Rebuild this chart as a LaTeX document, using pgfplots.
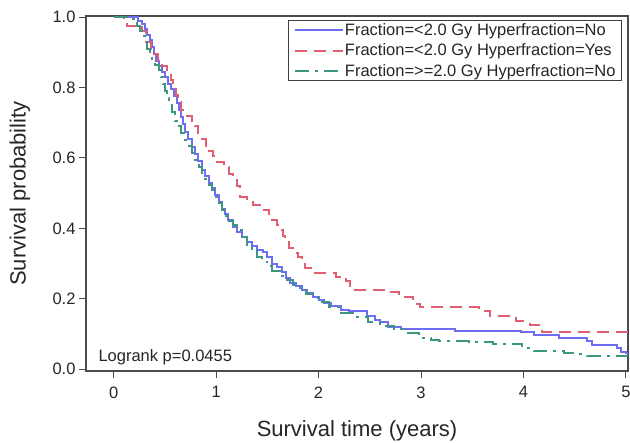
\documentclass[border=0pt]{standalone}
\usepackage{pgfplots}
\pgfplotsset{compat=1.18}
\usepackage{fontspec}
\setmainfont{Liberation Sans}

\definecolor{kmblue}{RGB}{110,110,245}
\definecolor{kmred}{RGB}{225,95,115}
\definecolor{kmgreen}{RGB}{60,150,130}

\begin{document}
\begin{tikzpicture}
\begin{axis}[
    scale only axis,
    width=542pt, height=355pt,
    xmin=-0.27, xmax=5.02,
    ymin=-0.005, ymax=1.003,
    xtick={0,1,2,3,4,5},
    ytick={0,0.2,0.4,0.6,0.8,1.0},
    /pgf/number format/assume math mode=true,
    yticklabel style={/pgf/number format/fixed, /pgf/number format/fixed zerofill,
      /pgf/number format/precision=1},
    xticklabel style={yshift=-5pt},
    tick label style={font=\fontsize{16.5}{19}\selectfont, text=black!85},
    tick align=outside, tick pos=left,
    major tick length=7pt,
    every tick/.style={black!70, line width=1pt},
    axis line style={draw=black!70, line width=1.2pt},
    xlabel={Survival time (years)},
    ylabel={Survival probability},
    label style={font=\fontsize{22}{26}\selectfont, text=black!85},
    xlabel style={at={(rel axis cs:0.5,0)}, anchor=base, yshift=-65pt},
    ylabel style={at={(rel axis cs:0,0.5)}, anchor=center, yshift=66pt},
    legend style={at={(rel axis cs:1,1)}, anchor=north east, xshift=-6pt, yshift=-4pt,
      draw=black!75, line width=1pt, font=\fontsize{16.5}{19}\selectfont,
      inner xsep=5pt, inner ysep=2pt, row sep=5pt,
      nodes={inner sep=1pt, text=black!85}},
    legend cell align=left,
    legend image code/.code={\draw[#1] (0pt,0pt) -- (48pt,0pt);},
]
\coordinate (ll) at (rel axis cs:0,0);
\coordinate (ur) at (rel axis cs:1,1);

\addplot[const plot, kmblue, line width=2pt] coordinates {
(0,1) (0.24,0.99) (0.28,0.98) (0.31,0.965) (0.33,0.95) (0.35,0.935) (0.37,0.915)
(0.39,0.895) (0.41,0.875) (0.44,0.86) (0.47,0.845) (0.50,0.83) (0.53,0.81)
(0.56,0.795) (0.59,0.775) (0.62,0.755) (0.64,0.735) (0.66,0.715) (0.68,0.695)
(0.70,0.675) (0.73,0.655) (0.76,0.63) (0.79,0.61) (0.82,0.59) (0.86,0.565)
(0.89,0.55) (0.93,0.53) (0.96,0.515) (0.99,0.495) (1.03,0.475) (1.06,0.455)
(1.09,0.44) (1.12,0.425) (1.16,0.405) (1.20,0.39) (1.25,0.375) (1.30,0.362)
(1.35,0.35) (1.40,0.34) (1.46,0.333) (1.50,0.32) (1.55,0.30) (1.59,0.29)
(1.64,0.275) (1.68,0.26) (1.72,0.246) (1.78,0.235) (1.84,0.225) (1.89,0.217)
(1.95,0.205) (2.00,0.197) (2.05,0.189) (2.12,0.18) (2.22,0.169) (2.30,0.164)
(2.47,0.15) (2.55,0.14) (2.60,0.133) (2.68,0.12) (2.80,0.114) (3.33,0.11)
(3.98,0.105) (4.10,0.096) (4.35,0.088) (4.62,0.079) (4.67,0.07) (4.91,0.06)
(4.95,0.05) (5.00,0.045) (5.05,0.045)
};
\addlegendentry{Fraction=<2.0 Gy Hyperfraction=No}

\addplot[const plot, kmred, line width=2pt, dash pattern=on 12pt off 7pt] coordinates {
(0,1) (0.10,0.99) (0.13,0.975) (0.28,0.96) (0.32,0.93) (0.36,0.91) (0.39,0.895)
(0.43,0.876) (0.47,0.86) (0.52,0.84) (0.56,0.82) (0.58,0.80) (0.61,0.78)
(0.63,0.76) (0.66,0.735) (0.70,0.72) (0.76,0.705) (0.79,0.69) (0.82,0.67)
(0.86,0.655) (0.90,0.635) (0.93,0.62) (0.97,0.605) (1.01,0.588) (1.08,0.573)
(1.13,0.555) (1.16,0.54) (1.20,0.52) (1.23,0.49) (1.30,0.48) (1.36,0.466)
(1.44,0.452) (1.52,0.435) (1.55,0.424) (1.59,0.41) (1.62,0.395) (1.65,0.378)
(1.67,0.362) (1.71,0.345) (1.76,0.33) (1.80,0.318) (1.84,0.30) (1.87,0.288)
(1.95,0.274) (2.17,0.263) (2.27,0.25) (2.31,0.236) (2.34,0.226) (2.66,0.22)
(2.78,0.214) (2.84,0.206) (2.92,0.195) (2.96,0.184) (2.99,0.176) (3.57,0.164)
(3.67,0.15) (3.93,0.136) (4.06,0.127) (4.18,0.107) (5.05,0.107)
};
\addlegendentry{Fraction=<2.0 Gy Hyperfraction=Yes}

\addplot[const plot, kmgreen, line width=2pt, dash pattern=on 14pt off 6pt on 3pt off 6pt] coordinates {
(0,1) (0.14,0.995) (0.20,0.985) (0.23,0.975) (0.26,0.96) (0.28,0.945) (0.31,0.93)
(0.33,0.91) (0.35,0.895) (0.37,0.88) (0.40,0.865) (0.44,0.85) (0.46,0.83)
(0.48,0.81) (0.50,0.79) (0.52,0.77) (0.54,0.75) (0.57,0.73) (0.60,0.706)
(0.63,0.69) (0.66,0.67) (0.69,0.65) (0.72,0.635) (0.76,0.613) (0.79,0.595)
(0.83,0.575) (0.86,0.556) (0.89,0.54) (0.93,0.522) (0.96,0.508) (1.00,0.49)
(1.03,0.472) (1.06,0.452) (1.10,0.435) (1.13,0.42) (1.16,0.41) (1.20,0.395)
(1.25,0.375) (1.30,0.352) (1.35,0.335) (1.40,0.32) (1.45,0.305) (1.50,0.292)
(1.55,0.28) (1.62,0.266) (1.69,0.252) (1.75,0.24) (1.82,0.226) (1.88,0.215)
(1.95,0.203) (2.00,0.19) (2.10,0.178) (2.22,0.161) (2.35,0.148) (2.48,0.133)
(2.60,0.124) (2.74,0.113) (2.85,0.103) (2.98,0.09) (3.10,0.083) (3.18,0.079)
(3.47,0.076) (3.70,0.072) (3.99,0.065) (4.03,0.059) (4.10,0.051) (4.40,0.045)
(4.50,0.042) (4.62,0.037) (5.05,0.037)
};
\addlegendentry{Fraction=>=2.0 Gy Hyperfraction=No}

\node[anchor=base west, font=\fontsize{16.5}{19}\selectfont, text=black!85]
  at ([xshift=9pt, yshift=10pt]ll) {Logrank p=0.0455};
\end{axis}
\pgfresetboundingbox
\path ([xshift=-86pt, yshift=-71pt]ll) rectangle ([xshift=2pt, yshift=16pt]ur);
\end{tikzpicture}
\end{document}
